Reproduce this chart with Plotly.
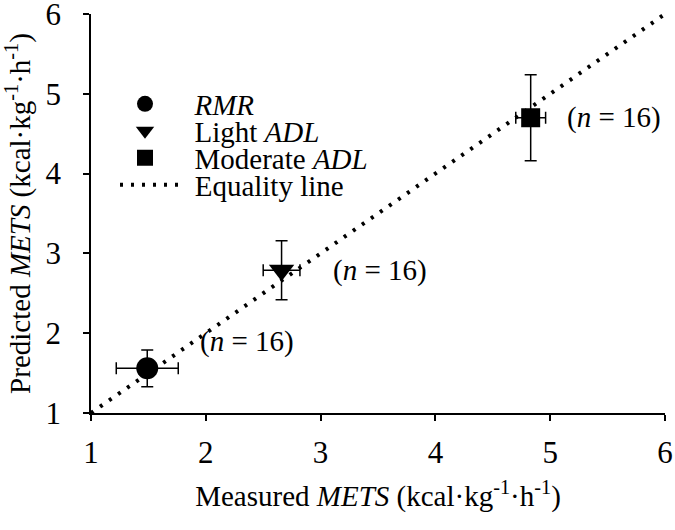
import plotly.graph_objects as go

# Data
labels = ["<i>RMR</i>", "Light <i>ADL</i>", "Moderate <i>ADL</i>"]
measured = [1.49, 2.66, 4.83]
measured_err = [0.27, 0.16, 0.13]
predicted = [1.56, 2.79, 4.70]
predicted_err = [0.23, 0.37, 0.54]
symbols = ["circle", "triangle-down", "square"]
sizes = [22, 22, 19]
n_text = ["(<i>n</i> = 16)", "(<i>n</i> = 16)", "(<i>n</i> = 16)"]
equality = [1, 6]
ticks = [1, 2, 3, 4, 5, 6]

FONT = "Liberation Serif"
NB = "\u00a0\u00a0"

fig = go.Figure()

# equality line
fig.add_trace(go.Scatter(
    x=equality, y=equality, mode="lines", name="\u00a0\u200a" + "Equality line",
    line=dict(color="black", width=4, dash="3px,8px"),
    legend="legend4", cliponaxis=False,
))

legend_names = ["legend", "legend2", "legend3"]
for i in range(3):
    fig.add_trace(go.Scatter(
        x=[measured[i]], y=[predicted[i]], mode="markers", name=NB + labels[i],
        marker=dict(symbol=symbols[i], size=sizes[i], color="black"),
        error_x=dict(type="data", array=[measured_err[i]], color="black", thickness=1.5, width=6),
        error_y=dict(type="data", array=[predicted_err[i]], color="black", thickness=1.5, width=6),
        legend=legend_names[i], cliponaxis=False,
    ))

ann_pos = [(1.93, 1.90), (3.09, 2.79), (5.13, 4.70)]
for i in range(3):
    fig.add_annotation(x=ann_pos[i][0], y=ann_pos[i][1], text=n_text[i],
                       showarrow=False, xanchor="left", yanchor="middle",
                       font=dict(family=FONT, size=29, color="black"))

# plot area in page pixels: x 91..665, y 14..413 (body margin removed below)
PL, PR, PT, PB = 91, 665, 14, 413
W, H = 675, 530
leg_common = dict(font=dict(family=FONT, size=29, color="black"), bgcolor="rgba(0,0,0,0)",
                  borderwidth=0, itemwidth=60, xanchor="left", yanchor="middle")
row_px = [104, 131, 158, 185]
leg_left_px = [110, 110, 110, 115]
layout_legends = {}
for k, name in enumerate(["legend", "legend2", "legend3", "legend4"]):
    layout_legends[name] = dict(leg_common, x=(leg_left_px[k] - PL) / (PR - PL),
                                y=(PB - row_px[k]) / (PB - PT))

axis_common = dict(
    range=[1, 6], tickvals=ticks, showgrid=False, zeroline=False,
    showline=True, linecolor="black", linewidth=1.5,
    ticks="outside", ticklen=6, tickwidth=1.5, tickcolor="black",
    tickfont=dict(family=FONT, size=31, color="black"), automargin=False,
    ticklabeloverflow="allow",
)

fig.update_layout(
    width=W, height=H,
    margin=dict(l=PL, r=W - PR, t=PT, b=H - PB),
    plot_bgcolor="white", paper_bgcolor="white",
    showlegend=True,
    xaxis=dict(axis_common, ticklabelstandoff=5, title=dict(
        text="Measured <i>METS</i> (kcal·kg<sup>-1</sup>·h<sup>-1</sup>)",
        font=dict(family=FONT, size=29, color="black"), standoff=17)),
    yaxis=dict(axis_common, ticklabelstandoff=16, title=dict(
        text="Predicted <i>METS</i> (kcal·kg<sup>-1</sup>·h<sup>-1</sup>)",
        font=dict(family=FONT, size=29, color="black"), standoff=21)),
    **layout_legends,
)

fig.write_html("out.html", config={"displayModeBar": False},
               post_script="document.body.style.margin='0';document.body.style.padding='0';")
